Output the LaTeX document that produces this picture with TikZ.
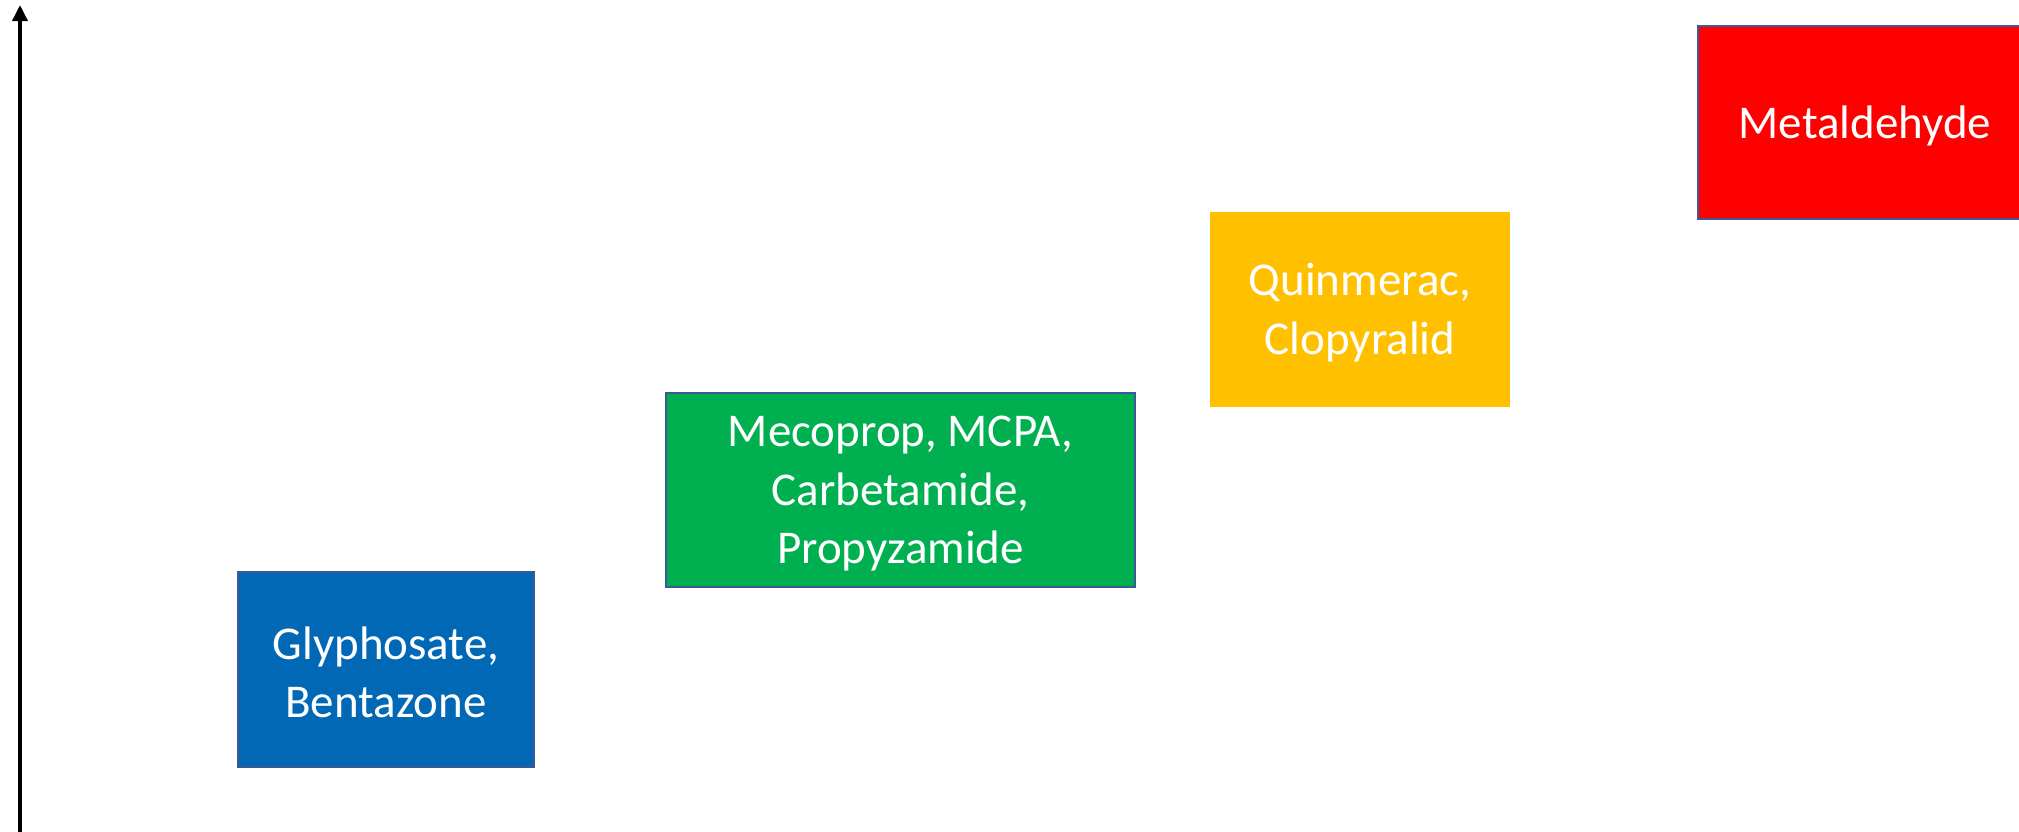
\documentclass[tikz,border=0pt]{standalone}
\usepackage{fontspec}
\setmainfont{Carlito}
\usetikzlibrary{arrows.meta}
\definecolor{cblue}{HTML}{0068B4}
\definecolor{cgreen}{HTML}{00B050}
\definecolor{cyellow}{HTML}{FFC000}
\definecolor{cred}{HTML}{FF0000}
\definecolor{cborder}{HTML}{3A5A94}
\tikzset{
  levelbox/.style={rectangle, inner sep=0pt, line width=1.8pt, draw=cborder},
  boxtext/.style={inner sep=0pt, align=center, text=white,
    font=\fontsize{47}{58.5}\selectfont},
}
\begin{document}
\begin{tikzpicture}[x=1pt,y=-1pt]
\useasboundingbox (0,0) rectangle (2019,831);
\fill[white] (0,0) rectangle (2019,831);
\coordinate (axbot) at (20,840);
\coordinate (axtop) at (20,5);
\draw[line width=3.5pt, -{Triangle[length=16pt,width=15pt]}] (axbot) -- (axtop);
\node[levelbox, fill=cblue, minimum width=296pt, minimum height=195pt] (blue) at (386,669.5) {};
\node[boxtext] (bluetext) at ([yshift=-3pt]blue.center) {Glyphosate,\\Bentazone};
\node[levelbox, fill=cgreen, minimum width=469pt, minimum height=194pt] (green) at (900.5,490) {};
\node[boxtext] (greentext) at ([yshift=-4pt]green.center) {Mecoprop, MCPA,\\Carbetamide,\\Propyzamide};
\node[levelbox, fill=cyellow, draw=none, minimum width=300pt, minimum height=195pt] (yellow) at (1360,309.5) {};
\node[boxtext] (yellowtext) at ([yshift=-3pt]yellow.center) {Quinmerac,\\Clopyralid};
\node[levelbox, fill=cred, minimum width=334pt, minimum height=193pt] (red) at (1865,122.5) {};
\node[boxtext] (redtext) at ([yshift=-3pt]red.center) {Metaldehyde};
\end{tikzpicture}
\end{document}
